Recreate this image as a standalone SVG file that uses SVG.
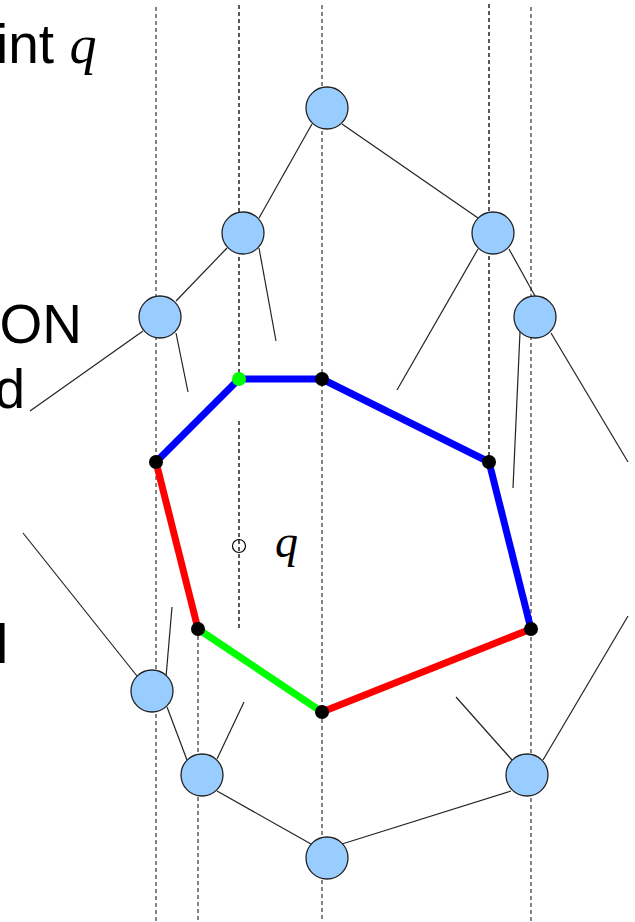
<svg xmlns="http://www.w3.org/2000/svg" width="635" height="922" viewBox="0 0 635 922">
<style>
.node{fill:#99CCFF;stroke:#222;stroke-width:1.3}
.edge{stroke:#222;stroke-width:1.2;fill:none}
.gdash{stroke:#444;stroke-width:1.3;stroke-dasharray:4,3;fill:none}
.bdash{stroke:#000;stroke-width:1.3;stroke-dasharray:4,3;fill:none}
.seg{stroke-width:7;fill:none;stroke-linecap:butt}
.lbl{font-family:"Liberation Sans",Arial,sans-serif;font-size:55px;fill:#000}
.math{font-family:"Liberation Serif","Times New Roman",serif;font-style:italic;fill:#000}
</style>
<rect width="635" height="922" fill="#fff"/>
<g id="guides">
<line class="gdash" x1="156" y1="7" x2="156" y2="922"/>
<line class="gdash" x1="322" y1="5" x2="322" y2="922"/>
<line class="gdash" x1="531" y1="7" x2="531" y2="922"/>
<line class="gdash" x1="198" y1="636" x2="198" y2="922"/>
<line class="bdash" x1="239" y1="5" x2="239" y2="375"/>
<line class="bdash" x1="239" y1="421" x2="239" y2="630"/>
<line class="bdash" x1="489" y1="4" x2="489" y2="460"/>
</g>
<g id="connectors">
<line class="edge" x1="312" y1="124" x2="259" y2="218"/>
<line class="edge" x1="342" y1="124" x2="478" y2="218"/>
<line class="edge" x1="227" y1="248" x2="176" y2="301"/>
<line class="edge" x1="259" y1="248" x2="276" y2="341"/>
<line class="edge" x1="143" y1="331" x2="30" y2="411"/>
<line class="edge" x1="176" y1="333" x2="188" y2="392"/>
<line class="edge" x1="509" y1="249" x2="535" y2="296"/>
<line class="edge" x1="478" y1="249" x2="397" y2="390"/>
<line class="edge" x1="520" y1="332" x2="513" y2="488"/>
<line class="edge" x1="551" y1="333" x2="628" y2="462"/>
<line class="edge" x1="543" y1="760" x2="628" y2="616"/>
<line class="edge" x1="456" y1="697" x2="512" y2="760"/>
<line class="edge" x1="342" y1="844" x2="511" y2="791"/>
<line class="edge" x1="217" y1="791" x2="311" y2="844"/>
<line class="edge" x1="167" y1="707" x2="187" y2="760"/>
<line class="edge" x1="217" y1="759" x2="244" y2="702"/>
<line class="edge" x1="23" y1="533" x2="137" y2="676"/>
<line class="edge" x1="166" y1="677" x2="172" y2="607"/>
</g>
<g id="polygon">
<line class="seg" stroke="#0000FF" x1="156" y1="462" x2="239" y2="379"/>
<line class="seg" stroke="#0000FF" x1="239" y1="379" x2="322" y2="379"/>
<line class="seg" stroke="#0000FF" x1="322" y1="379" x2="489" y2="462"/>
<line class="seg" stroke="#0000FF" x1="489" y1="462" x2="531" y2="629"/>
<line class="seg" stroke="#FF0000" x1="531" y1="629" x2="322" y2="712"/>
<line class="seg" stroke="#00FF00" x1="322" y1="712" x2="198" y2="629"/>
<line class="seg" stroke="#FF0000" x1="198" y1="629" x2="156" y2="462"/>
<circle cx="239" cy="379" r="7" fill="#00FF00"/>
<circle cx="322" cy="379" r="7" fill="#000"/>
<circle cx="489" cy="462" r="7" fill="#000"/>
<circle cx="531" cy="629" r="7" fill="#000"/>
<circle cx="322" cy="712" r="7" fill="#000"/>
<circle cx="198" cy="629" r="7" fill="#000"/>
<circle cx="156" cy="462" r="7" fill="#000"/>
</g>
<g id="n1"><circle class="node" cx="327" cy="108" r="21"/></g>
<g id="n2"><circle class="node" cx="243" cy="233" r="21"/></g>
<g id="n3"><circle class="node" cx="493" cy="233" r="21"/></g>
<g id="n4"><circle class="node" cx="160" cy="317" r="21"/></g>
<g id="n5"><circle class="node" cx="535" cy="317" r="21"/></g>
<g id="n6"><circle class="node" cx="152" cy="691" r="21"/></g>
<g id="n7"><circle class="node" cx="202" cy="775" r="21"/></g>
<g id="n8"><circle class="node" cx="327" cy="858" r="21"/></g>
<g id="n9"><circle class="node" cx="527" cy="775" r="21"/></g>
<g id="query">
<circle cx="239" cy="546" r="6.5" fill="none" stroke="#000" stroke-width="1.2"/>
<text class="math" x="275" y="557" font-size="46">q</text>
</g>
<g id="labels">
<text class="lbl" x="-4" y="63">int <tspan class="math" font-size="54">q</tspan></text>
<text class="lbl" x="82" y="343" text-anchor="end">ON</text>
<text class="lbl" x="25" y="408" text-anchor="end">d</text>
<text class="lbl" x="-4" y="663">l</text>
</g>
</svg>
